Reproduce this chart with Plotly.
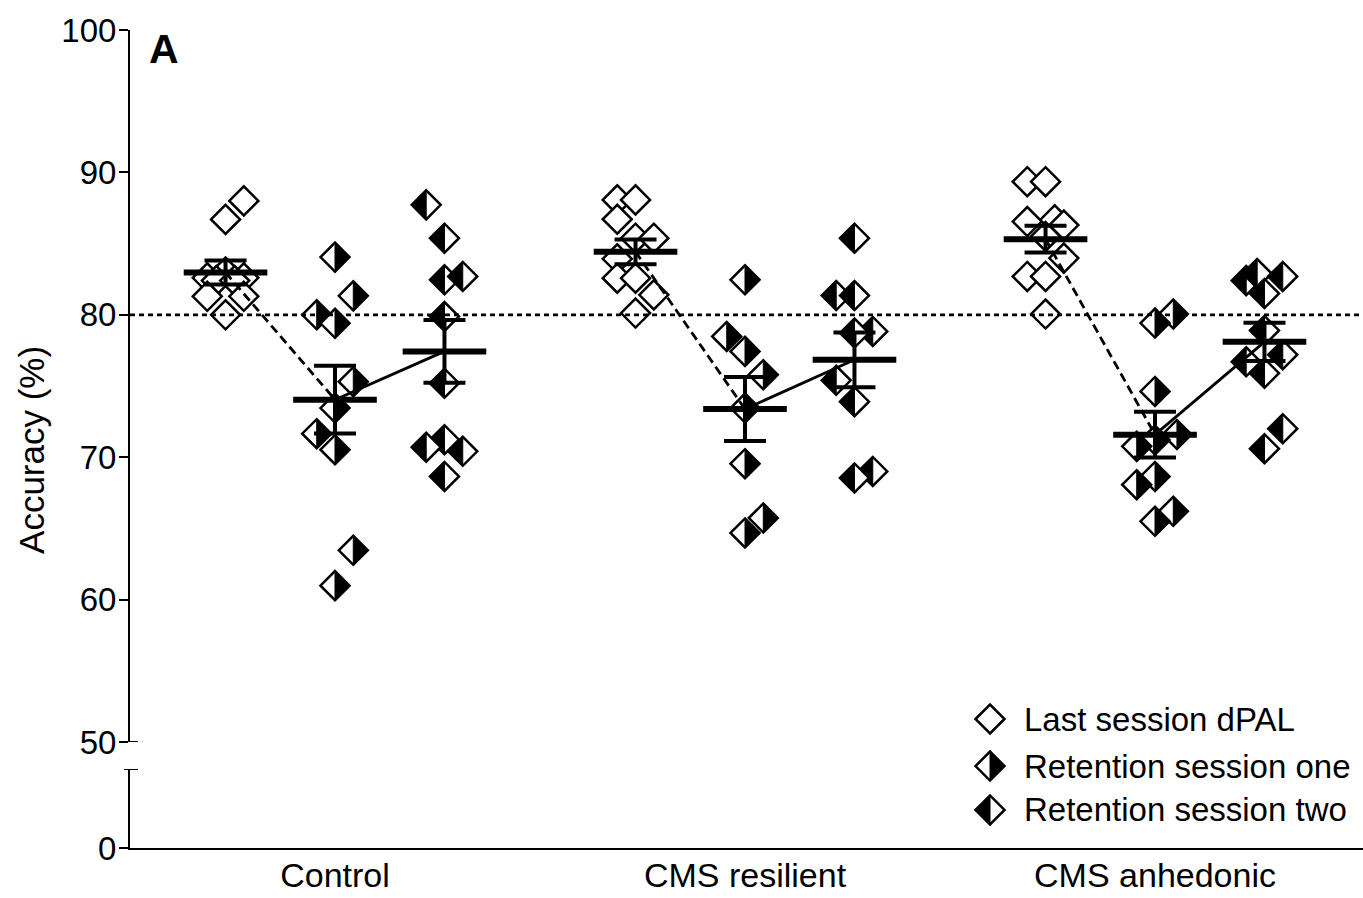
import plotly.graph_objects as go

# ---------------------------------------------------------------- data
GROUPS = ["Control", "CMS resilient", "CMS anhedonic"]
SESSIONS = ["Last session dPAL", "Retention session one", "Retention session two"]

# Accuracy (%) of individual animals; *_LANE is the sideways spread of
# each symbol (in symbol-widths) used to keep tied values readable.
CTRL_DPAL = [88.0, 86.7, 83.0, 82.6, 82.6, 82.4, 82.4, 81.3, 81.3, 80.0]
CTRL_DPAL_LANE = [1, 0, 0, -1, 1, -0.5, 0.5, -1, 1, 0]
CTRL_S1 = [84.05, 81.33, 80.0, 79.4, 75.3, 73.45, 71.65, 70.53, 63.46, 60.98]
CTRL_S1_LANE = [0, 1, -1, 0, 1, 0, -1, 0, 1, 0]
CTRL_S2 = [87.72, 85.38, 82.46, 82.69, 79.88, 75.2, 71.23, 70.7, 70.41, 68.65]
CTRL_S2_LANE = [-1, 0, 0, 1, 0, 0, 0, -1, 1, 0]

RES_DPAL = [88.07, 88.07, 86.71, 85.38, 85.38, 83.93, 82.57, 82.57, 81.4, 80.12]
RES_DPAL_LANE = [-1, 0, -1, 0, 1, -1, -1, 0, 1, 0]
RES_S1 = [82.46, 78.48, 77.43, 75.79, 73.45, 69.54, 65.73, 64.68]
RES_S1_LANE = [0, -1, 0, 1, 0, 0, 1, 0]
RES_S2 = [85.38, 81.35, 81.35, 78.83, 78.72, 75.4, 73.9, 69.0, 68.54]
RES_S2_LANE = [0, -1, 0, 1, 0, -1, 0, 1, 0]

ANH_DPAL = [89.35, 89.35, 86.55, 86.67, 86.3, 85.5, 83.98, 82.69, 82.69, 80.05]
ANH_DPAL_LANE = [-1, 0, -1, 0.5, 1, 0, 1, -1, 0, 0]
ANH_S1 = [80.05, 79.42, 74.62, 71.6, 71.2, 70.76, 68.65, 68.07, 66.2, 65.5]
ANH_S1_LANE = [1, 0, 0, 1.2, 0, -1, 0, -1, 1, 0]
ANH_S2 = [82.4, 82.9, 82.69, 81.5, 78.9, 77.2, 76.7, 75.9, 72.0, 70.6]
ANH_S2_LANE = [-1, -0.4, 1, 0, 0, 1, -1, 0, 1, 0]

# Group mean and SEM per session (dPAL, retention one, retention two)
CTRL_MEAN = [82.97, 74.04, 77.43]
CTRL_SEM = [0.85, 2.38, 2.2]
RES_MEAN = [84.42, 73.38, 76.84]
RES_SEM = [0.87, 2.25, 1.92]
ANH_MEAN = [85.31, 71.58, 78.1]
ANH_SEM = [0.94, 1.61, 1.34]

CRITERION = 80

Y_TICKS_UPPER = [50, 60, 70, 80, 90, 100]
Y_TICKS_LOWER = [0]

# ---------------------------------------------------------------- layout constants
FONT = "Liberation Sans, Arial, sans-serif"
FS = 33
SESSION_OFFSET = [-0.267, 0.0, 0.267]
LANE_STEP = 0.0446           # one symbol width in x-axis units
MEAN_HALF = 0.102            # half length of the mean bar
X_RANGE = [0.5, 3.5073]
H = 14.5                     # symbol half-diagonal (px)

DIAMOND = f"M{-H},0 L0,{H} L{H},0 L0,{-H} Z"
LEFT_HALF = f"M0,{-H} L{-H},0 L0,{H} Z"
RIGHT_HALF = f"M0,{-H} L{H},0 L0,{H} Z"
HALF_FILL = [None, RIGHT_HALF, LEFT_HALF]

series = [
    [(CTRL_DPAL, CTRL_DPAL_LANE), (CTRL_S1, CTRL_S1_LANE), (CTRL_S2, CTRL_S2_LANE)],
    [(RES_DPAL, RES_DPAL_LANE), (RES_S1, RES_S1_LANE), (RES_S2, RES_S2_LANE)],
    [(ANH_DPAL, ANH_DPAL_LANE), (ANH_S1, ANH_S1_LANE), (ANH_S2, ANH_S2_LANE)],
]
means = [CTRL_MEAN, RES_MEAN, ANH_MEAN]
sems = [CTRL_SEM, RES_SEM, ANH_SEM]


def symbol_shapes(session, xref, yref, x, y, layer):
    """White diamond with black outline, half filled for the retention sessions."""
    common = dict(type="path", xref=xref, yref=yref, xsizemode="pixel",
                  ysizemode="pixel", xanchor=x, yanchor=y, layer=layer)
    out = [dict(path=DIAMOND, fillcolor="white",
                line=dict(color="black", width=2.5), **common)]
    if HALF_FILL[session]:
        out.append(dict(path=HALF_FILL[session], fillcolor="black",
                        line=dict(color="black", width=1), **common))
    return out


shapes = []
for g, group_series in enumerate(series):
    for s, (vals, lanes) in enumerate(group_series):
        cx = g + 1 + SESSION_OFFSET[s]
        for v, ln in zip(vals, lanes):
            shapes += symbol_shapes(s, "x", "y", cx + ln * LANE_STEP, v, "below")

fig = go.Figure()

# criterion line
fig.add_trace(go.Scatter(
    x=X_RANGE, y=[CRITERION, CRITERION], mode="lines",
    line=dict(color="black", width=2.7, dash="5px,4px"),
    hoverinfo="skip", showlegend=False, xaxis="x", yaxis="y"))

# SEM error bars
ex, ey, ee = [], [], []
for g in range(3):
    for s in range(3):
        ex.append(g + 1 + SESSION_OFFSET[s])
        ey.append(means[g][s])
        ee.append(sems[g][s])
fig.add_trace(go.Scatter(
    x=ex, y=ey, mode="markers",
    marker=dict(size=1, color="rgba(0,0,0,0)"),
    error_y=dict(type="data", array=ee, visible=True, color="black",
                 thickness=4, width=21),
    hoverinfo="skip", showlegend=False, xaxis="x", yaxis="y"))

# mean bars
mx, my = [], []
for g in range(3):
    for s in range(3):
        c = g + 1 + SESSION_OFFSET[s]
        mx += [c - MEAN_HALF, c + MEAN_HALF, None]
        my += [means[g][s], means[g][s], None]
fig.add_trace(go.Scatter(
    x=mx, y=my, mode="lines", line=dict(color="black", width=6),
    hoverinfo="skip", showlegend=False, xaxis="x", yaxis="y"))

# dashed: dPAL -> retention one ; solid: retention one -> retention two
dx, dy, sx, sy = [], [], [], []
for g in range(3):
    c = [g + 1 + o for o in SESSION_OFFSET]
    dx += [c[0], c[1], None]
    dy += [means[g][0], means[g][1], None]
    sx += [c[1], c[2], None]
    sy += [means[g][1], means[g][2], None]
fig.add_trace(go.Scatter(
    x=dx, y=dy, mode="lines", line=dict(color="black", width=2.8, dash="9px,5px"),
    hoverinfo="skip", showlegend=False, xaxis="x", yaxis="y"))
fig.add_trace(go.Scatter(
    x=sx, y=sy, mode="lines", line=dict(color="black", width=2.8),
    hoverinfo="skip", showlegend=False, xaxis="x", yaxis="y"))

# axis break caps
shapes.append(dict(type="line", xref="paper", yref="y", xsizemode="pixel",
                   xanchor=0, x0=0, x1=8, y0=50, y1=50,
                   line=dict(color="black", width=2), layer="above"))
shapes.append(dict(type="line", xref="paper", yref="y2", xsizemode="pixel",
                   xanchor=0, x0=-6, x1=8, y0=5, y1=5,
                   line=dict(color="black", width=2), layer="above"))

# legend
LEG_X_SYMBOL = 0.6975
LEG_X_TEXT = 0.7235
LEG_Y = [0.1577, 0.1002, 0.0465]
annotations = []
for s, name in enumerate(SESSIONS):
    shapes += symbol_shapes(s, "paper", "paper", LEG_X_SYMBOL, LEG_Y[s], "above")
    annotations.append(dict(
        text=name, xref="paper", yref="paper", x=LEG_X_TEXT, y=LEG_Y[s],
        xanchor="left", yanchor="middle", showarrow=False,
        font=dict(family=FONT, size=FS, color="black")))

annotations.append(dict(
    text="Accuracy (%)", xref="paper", yref="paper", x=-0.0795, y=0.4866,
    xanchor="center", yanchor="middle", textangle=-90, showarrow=False,
    font=dict(family=FONT, size=35, color="black")))
annotations.append(dict(
    text="<b>A</b>", xref="paper", yref="paper", x=0.014, y=0.977,
    xanchor="left", yanchor="middle", showarrow=False,
    font=dict(family=FONT, size=41, color="black")))

axis_common = dict(showgrid=False, zeroline=False, showline=True,
                   linecolor="black", linewidth=2, automargin=False)
y_tickfont = dict(family=FONT, size=FS, color="black")

fig.update_layout(
    width=1363, height=898,
    margin=dict(l=130, r=0, t=30, b=50),
    paper_bgcolor="white", plot_bgcolor="white",
    showlegend=False,
    xaxis=dict(range=X_RANGE, tickvals=[1, 2, 3], ticktext=GROUPS,
               ticks="", anchor="y2", ticklabelstandoff=-4,
               tickfont=dict(family=FONT, size=34, color="black"),
               **axis_common),
    yaxis=dict(range=[50, 100], tickvals=Y_TICKS_UPPER, domain=[0.1296, 1],
               ticks="outside", ticklen=9, tickwidth=2, tickcolor="black",
               ticklabelstandoff=-4, tickfont=y_tickfont,
               anchor="x", **axis_common),
    yaxis2=dict(range=[0, 5], tickvals=Y_TICKS_LOWER, domain=[0, 0.0966],
                ticks="outside", ticklen=9, tickwidth=2, tickcolor="black",
                ticklabelstandoff=-4, tickfont=y_tickfont,
                anchor="x", **axis_common),
    shapes=shapes,
    annotations=annotations,
)

fig.write_html("out.html")
